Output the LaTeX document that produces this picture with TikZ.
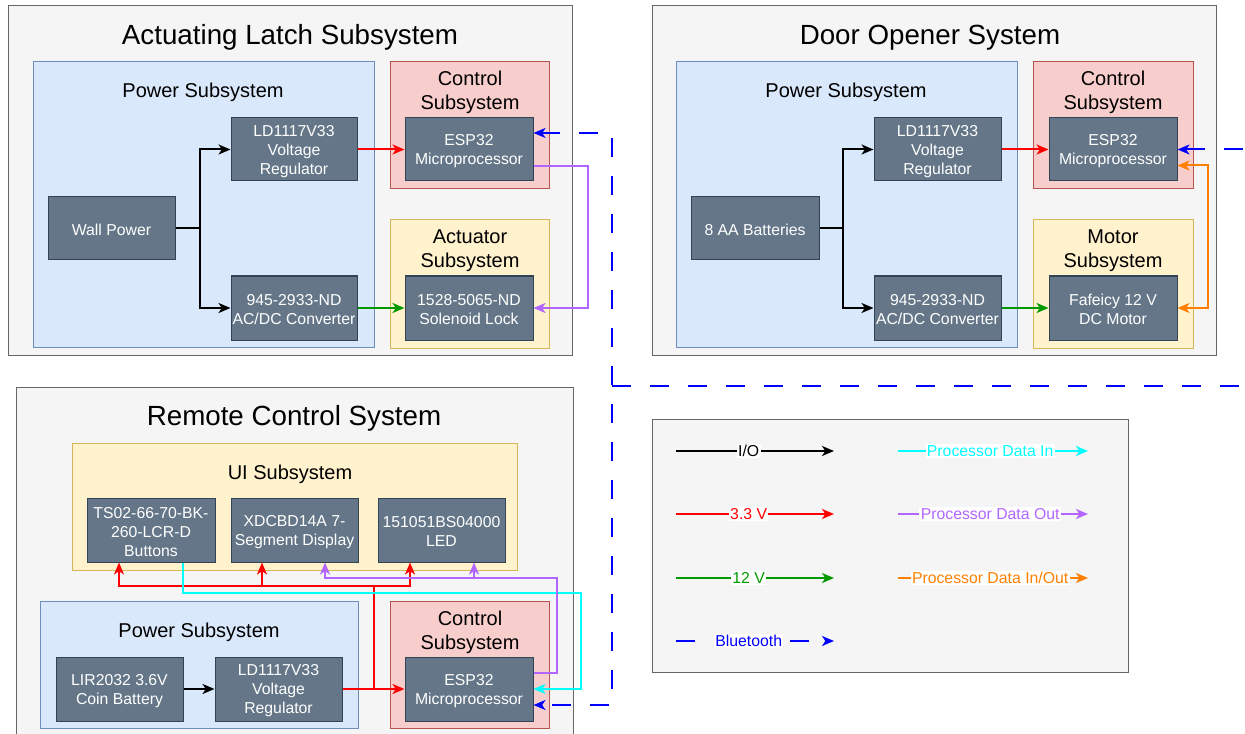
\documentclass[tikz,border=0pt]{standalone}
\usepackage{fontspec}
\setmainfont{Liberation Sans}
\usetikzlibrary{arrows.meta,fit}
\definecolor{outfill}{HTML}{F5F5F5}
\definecolor{outdraw}{HTML}{666666}
\definecolor{pwfill}{HTML}{DAE8FC}
\definecolor{pwdraw}{HTML}{6C8EBF}
\definecolor{ctfill}{HTML}{F8CECC}
\definecolor{ctdraw}{HTML}{B85450}
\definecolor{yefill}{HTML}{FFF2CC}
\definecolor{yedraw}{HTML}{D6B656}
\definecolor{cpfill}{HTML}{647687}
\definecolor{cpdraw}{HTML}{314354}
\definecolor{wred}{HTML}{FF0000}
\definecolor{wgreen}{HTML}{009900}
\definecolor{wpurple}{HTML}{B266FF}
\definecolor{wcyan}{HTML}{00FFFF}
\definecolor{worange}{HTML}{FF8000}
\definecolor{wblue}{HTML}{0000FF}
\tikzset{
  x=0.75pt, y=-0.75pt,
  >={Stealth[length=9pt,width=7.5pt,inset=2.5pt]},
  grpbox/.style={line width=0.75pt, inner sep=0pt},
  outerbox/.style={grpbox, draw=outdraw, fill=outfill},
  pwrbox/.style={grpbox, draw=pwdraw, fill=pwfill},
  ctlbox/.style={grpbox, draw=ctdraw, fill=ctfill},
  yelbox/.style={grpbox, draw=yedraw, fill=yefill},
  comp/.style={draw=cpdraw, fill=cpfill, line width=0.75pt, inner sep=0pt,
    label={[comptext]center:#1}},
  comptext/.style={text=white, align=center, inner sep=0pt, yshift=-1.3pt,
    font=\fontsize{11.85}{14.25}\selectfont},
  ttl/.style={font=\fontsize{20.8}{25}\selectfont, inner sep=0pt},
  sublbl/.style={font=\fontsize{15}{18}\selectfont, inner sep=0pt, align=center},
  wire/.style={line width=1.5pt},
  io/.style={wire, draw=black},
  v33/.style={wire, draw=wred},
  v12/.style={wire, draw=wgreen},
  pout/.style={wire, draw=wpurple},
  pin/.style={wire, draw=wcyan},
  pio/.style={wire, draw=worange},
  bt/.style={wire, draw=wblue, dash pattern=on 14.25pt off 14.25pt},
  lbl/.style={fill=white, inner sep=1pt, font=\fontsize{11.85}{14}\selectfont},
}
\begin{document}
\begin{tikzpicture}
\useasboundingbox (0,0) rectangle (1245,734);
\clip (0,0) rectangle (1245,734);

% ---------------- Actuating Latch Subsystem ----------------
\node[outerbox, fit={(8,6)(572,355)}] (als) {};
\node[ttl] (alst) at (290,37.5) {Actuating Latch Subsystem};
\node[pwrbox, fit={(33,62)(374,347)}] (pw1) {};
\node[sublbl] (pw1t) at (203,92) {Power Subsystem};
\node[ctlbox, fit={(390,62)(549,189)}] (ct1) {};
\node[sublbl] (ct1t) at (470,92) {Control\\Subsystem};
\node[yelbox, fit={(390,220)(549,348)}] (ac1) {};
\node[sublbl] (ac1t) at (470,251) {Actuator\\Subsystem};
\node[comp={Wall Power}, fit={(48,197)(175,260)}] (wall) {};
\node[comp={LD1117V33\\Voltage\\Regulator}, fit={(231,118)(357,181)}] (ld1) {};
\node[comp={945-2933-ND\\AC/DC Converter}, fit={(231,276)(357,340)}] (cv1) {};
\node[comp={ESP32\\Microprocessor}, fit={(405,118)(533,181)}] (esp1) {};
\node[comp={1528-5065-ND\\Solenoid Lock}, fit={(405,276)(533,340)}] (sol) {};

\coordinate (f1) at (200,228.5);
\draw[io] (wall.east) -- (f1);
\draw[io,->] (f1) |- (ld1.west);
\draw[io,->] (f1) |- (cv1.west);
\draw[v33,->] (ld1.east) -- (esp1.west);
\draw[v12,->] (cv1.east) -- (sol.west);
\coordinate (p1) at (588,308);
\draw[pout,->] ([yshift=-12.4pt]esp1.east) -| (p1) -- (sol.east);

% ---------------- Door Opener System ----------------
\node[outerbox, fit={(652,6)(1216,355)}] (door) {};
\node[ttl] (doort) at (930,37.5) {Door Opener System};
\node[pwrbox, fit={(676,62)(1017,347)}] (pw2) {};
\node[sublbl] (pw2t) at (846,92) {Power Subsystem};
\node[ctlbox, fit={(1033,62)(1193,189)}] (ct2) {};
\node[sublbl] (ct2t) at (1113,92) {Control\\Subsystem};
\node[yelbox, fit={(1033,220)(1193,348)}] (mo2) {};
\node[sublbl] (mo2t) at (1113,251) {Motor\\Subsystem};
\node[comp={8 AA Batteries}, fit={(691,197)(819,260)}] (bat) {};
\node[comp={LD1117V33\\Voltage\\Regulator}, fit={(874,118)(1001,181)}] (ld2) {};
\node[comp={945-2933-ND\\AC/DC Converter}, fit={(874,276)(1001,340)}] (cv2) {};
\node[comp={ESP32\\Microprocessor}, fit={(1049,118)(1177,181)}] (esp2) {};
\node[comp={Fafeicy 12 V\\DC Motor}, fit={(1049,276)(1177,340)}] (motor) {};

\coordinate (f2) at (843,228.5);
\draw[io] (bat.east) -- (f2);
\draw[io,->] (f2) |- (ld2.west);
\draw[io,->] (f2) |- (cv2.west);
\draw[v33,->] (ld2.east) -- (esp2.west);
\draw[v12,->] (cv2.east) -- (motor.west);
\coordinate (o1) at (1208,308);
\draw[pio,<->] ([yshift=-12pt]esp2.east) -| (o1) -- (motor.east);

% ---------------- Remote Control System ----------------
\node[outerbox, fit={(16,387)(573,760)}] (rem) {};
\node[ttl] (remt) at (294,418.5) {Remote Control System};
\node[yelbox, fit={(72,443)(517,570)}] (ui) {};
\node[sublbl] (uit) at (290,474) {UI Subsystem};
\node[pwrbox, fit={(40,601)(358,728)}] (pw3) {};
\node[sublbl] (pw3t) at (199,632) {Power Subsystem};
\node[ctlbox, fit={(390,601)(549,728)}] (ct3) {};
\node[sublbl] (ct3t) at (470,632.5) {Control\\Subsystem};
\node[comp={TS02-66-70-BK-\\260-LCR-D\\Buttons}, fit={(87,498)(215,562)}] (btn) {};
\node[comp={XDCBD14A 7-\\Segment Display}, fit={(231,498)(358,562)}] (seg) {};
\node[comp={151051BS04000\\LED}, fit={(378,498)(505,562)}] (led) {};
\node[comp={LIR2032 3.6V\\Coin Battery}, fit={(56,657)(183,721)}] (lir) {};
\node[comp={LD1117V33\\Voltage\\Regulator}, fit={(215,657)(342,721)}] (ld3) {};
\node[comp={ESP32\\Microprocessor}, fit={(405,657)(533,721)}] (esp3) {};

\draw[io,->] (lir.east) -- (ld3.west);
\draw[v33,->] (ld3.east) -- (esp3.west);
\coordinate (rj0) at (374,689);
\coordinate (rj) at (374,586);
\draw[v33] (rj0) -- (rj);
\draw[v33,->] (rj) -| (btn.south -| 119,0);
\draw[v33,->] (rj) -| (seg.south -| 262,0);
\draw[v33,->] (rj) -| (led.south -| 410,0);
\coordinate (c1) at (581,593);
\draw[pin,->] (btn.south -| 183,0) |- (c1) |- (esp3.east);
\coordinate (q1) at (557,578);
\coordinate (q2) at (474,578);
\draw[pout,->] ([yshift=12pt]esp3.east) -| (q1) -| (seg.south -| 325,0);
\draw[pout,->] (q2) -- (led.south -| 474,0);

% ---------------- Bluetooth ----------------
\coordinate (b1) at (612,705);
\coordinate (b2) at (612,386);
\coordinate (b3) at (1265,149.5);
\draw[bt,<->] ([yshift=12.4pt]esp1.east) -| (b1) -- ([yshift=-12pt]esp3.east);
\draw[bt,->] (b2) -| (b3) -- (esp2.east);

% ---------------- Legend ----------------
\node[outerbox, fit={(652,419)(1128,672)}] (leg) {};
\coordinate (la1) at (676,451);  \coordinate (lb1) at (834,451);
\coordinate (la2) at (676,514);  \coordinate (lb2) at (834,514);
\coordinate (la3) at (676,578);  \coordinate (lb3) at (834,578);
\coordinate (la4) at (676,641);  \coordinate (lb4) at (834,641);
\coordinate (ra1) at (898,451);  \coordinate (rb1) at (1088,451);
\coordinate (ra2) at (898,514);  \coordinate (rb2) at (1088,514);
\coordinate (ra3) at (898,578);  \coordinate (rb3) at (1088,578);
\draw[io,->] (la1) -- node[lbl, pos=0.46, text=black] (t1) {I/O} (lb1);
\draw[v33,->] (la2) -- node[lbl, pos=0.46, text=wred] (t2) {3.3 V} (lb2);
\draw[v12,->] (la3) -- node[lbl, pos=0.46, text=wgreen] (t3) {12 V} (lb3);
\draw[bt,->] (la4) -- node[lbl, pos=0.46, text=wblue] (t4) {Bluetooth} (lb4);
\draw[pin,->] (ra1) -- node[lbl, pos=0.485, text=wcyan] (t5) {Processor Data In} (rb1);
\draw[pout,->] (ra2) -- node[lbl, pos=0.485, text=wpurple] (t6) {Processor Data Out} (rb2);
\draw[pio,->] (ra3) -- node[lbl, pos=0.485, text=worange] (t7) {Processor Data In/Out} (rb3);
\end{tikzpicture}
\end{document}
